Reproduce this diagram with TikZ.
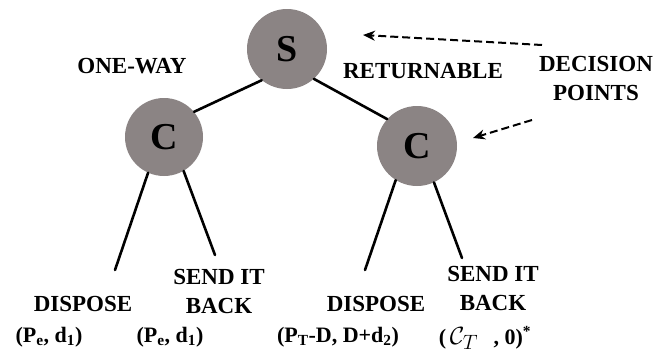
\documentclass[tikz,border=0pt]{standalone}
\usepackage{fontspec}
\setmainfont{Liberation Serif}
\usetikzlibrary{arrows.meta}
\definecolor{nodegray}{RGB}{139,132,132}
\begin{document}
\begin{tikzpicture}[x=1pt,y=-1pt,
  decision/.style={circle,fill=nodegray,inner sep=0pt,minimum size=80pt,
    font=\fontsize{38}{40}\selectfont\bfseries},
  branch/.style={line width=2.6pt,line cap=round},
  lbl/.style={font=\fontsize{23}{29}\selectfont\bfseries,align=center,inner sep=0pt},
  pay/.style={font=\fontsize{22}{26}\selectfont\bfseries,inner sep=0pt},
  pointer/.style={line width=2pt,dash pattern=on 8pt off 4pt,-{Stealth[length=12pt,width=10pt]}}]
\useasboundingbox (0,0) rectangle (656,356);
\node[decision] (S) at (287,49) {S};
\node[decision,minimum size=78pt] (L) at (164,137) {C};
\node[decision] (R) at (417,146) {C};
\draw[branch] (S.231) -- (L.40);
\draw[branch] (S.-48) -- (R.138);
\coordinate (l1) at (115,270);
\coordinate (l2) at (215,255);
\coordinate (r1) at (365,270);
\coordinate (r2) at (462,258);
\draw[branch] (L.246) -- (l1);
\draw[branch] (L.-60) -- (l2);
\draw[branch] (R.238) -- (r1);
\draw[branch] (R.-65) -- (r2);
\node[lbl] (oneway) at (132,66) {ONE-WAY};
\node[lbl] (ret) at (423,71) {RETURNABLE};
\node[lbl] (dp) at (596,78) {DECISION\\POINTS};
\coordinate (t1) at (542,45);
\coordinate (h1) at (363,35);
\coordinate (t2) at (532,120);
\coordinate (h2) at (473,138);
\draw[pointer] (t1) -- (h1);
\draw[pointer] (t2) -- (h2);
\node[lbl] (dl) at (83,304) {DISPOSE};
\node[lbl] (sl) at (219,291) {SEND IT\\BACK};
\node[lbl] (dr) at (376,304) {DISPOSE};
\node[lbl] (sr) at (493,288) {SEND IT\\BACK};
\node[pay] (p1) at (49,337) {(P\textsubscript{e}, d\textsubscript{1})};
\node[pay] (p2) at (170,337) {(P\textsubscript{e}, d\textsubscript{1})};
\node[pay] (p3) at (338,337) {(P\textsubscript{T}-D, D+d\textsubscript{2})};
\node[pay] (p4) at (485,338) {(\,{\mdseries\fontsize{28}{30}\selectfont$\mathcal{C}_T$}\hspace{0.7em}, 0)\textsuperscript{*}};
\end{tikzpicture}
\end{document}
